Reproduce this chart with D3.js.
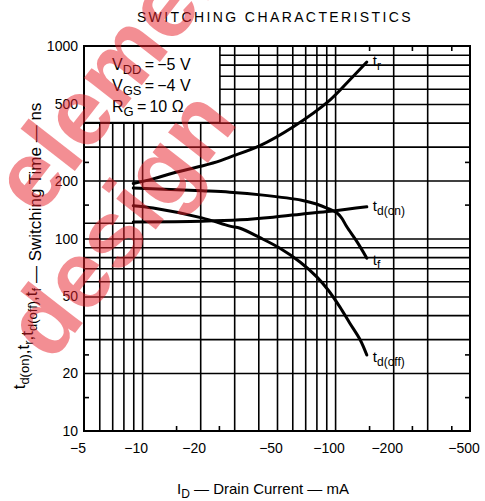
<!DOCTYPE html>
<html lang="en">
<head>
<meta charset="UTF-8">
<title>Switching Characteristics</title>
<script src="https://d3js.org/d3.v7.min.js"></script>
<style>
  body { margin: 0; background: #fff; font-family: 'Liberation Sans', Arial, sans-serif; }
  svg { display: block; }
  .grid line { stroke: #000; stroke-width: 1.6; }
  .grid path { display: none; }
  .curve { fill: none; stroke: #000; stroke-width: 3; stroke-linecap: round; }
</style>
</head>
<body>
<svg id="chart"></svg>
<script>
// values (|ID| in mA, time in ns)
const trCurrent   = [9, 11.4, 14.5, 20.4, 25.3, 28.5, 40.8, 60.5, 94, 119, 146];
const trTime      = [193, 204, 219, 238, 253, 265, 304, 380, 524, 666, 826];
const tfCurrent   = [9, 20.4, 28.5, 42.3, 67, 80, 92, 102, 108, 115, 130, 146];
const tfTime      = [183, 177, 174, 168, 158, 151, 143, 136, 128, 115, 96, 79];
const tdonCurrent = [9, 20.4, 32.2, 47.7, 71.5, 97.5, 146];
const tdonTime    = [122, 123, 125, 129, 135, 139, 146];
const tdoffCurrent = [9, 11.4, 20.4, 28.5, 32.2, 40.8, 51.8, 65.8, 80.6, 92, 106, 119, 135, 146];
const tdoffTime    = [148, 144, 128, 116, 113, 101, 89, 75.5, 63, 54, 44, 36.4, 29.7, 24.8];

const xTickLabels = [5, 10, 20, 50, 100, 200, 500];
const yTickLabels = [10, 20, 50, 100, 200, 500, 1000];
const xGrid = [6, 7, 8, 9, 10, 20, 30, 40, 50, 60, 70, 80, 90, 100, 200, 300];
const yGrid = [20, 30, 40, 50, 60, 70, 80, 90, 100, 200, 300, 400, 500, 600, 700, 800, 900];
const xMinor = [15, 25, 150, 250, 400];
const yMinor = [15, 25, 150, 250];

const W = 485, H = 501;
const margin = {top: 46, right: 15, bottom: 70, left: 84};
const w = W - margin.left - margin.right;
const h = H - margin.top - margin.bottom;

const svg = d3.select("#chart").attr("width", W).attr("height", H);
const g = svg.append("g").attr("transform", `translate(${margin.left},${margin.top})`);

const x = d3.scaleLog().domain([5, 500]).range([0, w]);
const y = d3.scaleLog().domain([10, 1000]).range([h, 0]);

// grid
g.append("g").attr("class", "grid").attr("transform", `translate(0,${h})`)
  .call(d3.axisBottom(x).tickValues(xGrid).tickSize(-h).tickFormat(""));
g.append("g").attr("class", "grid")
  .call(d3.axisLeft(y).tickValues(yGrid).tickSize(-w).tickFormat(""));
g.append("line").attr("x1", x(5)).attr("x2", x(9)).attr("y1", y(120)).attr("y2", y(120))
  .attr("stroke", "#000").attr("stroke-width", 1.6);

// short inward ticks on all sides
g.append("g").attr("class", "grid").attr("transform", `translate(0,${h})`)
  .call(d3.axisBottom(x).tickValues(xMinor).tickSize(-5).tickFormat(""));
g.append("g").attr("class", "grid")
  .call(d3.axisTop(x).tickValues(xMinor).tickSize(-5).tickFormat(""));
g.append("g").attr("class", "grid")
  .call(d3.axisLeft(y).tickValues(yMinor).tickSize(-5).tickFormat(""));
g.append("g").attr("class", "grid").attr("transform", `translate(${w},0)`)
  .call(d3.axisRight(y).tickValues(yMinor).tickSize(-5).tickFormat(""));

// conditions box
g.append("rect").attr("x", 0).attr("y", 0)
  .attr("width", x(25.3)).attr("height", y(400))
  .attr("fill", "#fff").attr("stroke", "#000").attr("stroke-width", 1.6);

const cond = [["V", "DD", "\u2009=\u2009\u22125 V"], ["V", "GS", "\u2009=\u2009\u22124 V"], ["R", "G", "\u2009=\u200910 \u03A9"]];
cond.forEach((c, i) => {
  const t = g.append("text").attr("x", 28).attr("y", 24 + i * 21)
    .attr("font-size", 16);
  t.append("tspan").text(c[0]);
  t.append("tspan").attr("font-size", 13).attr("dy", 4).text(c[1]);
  t.append("tspan").attr("dy", -4).text(c[2]);
});

// frame
g.append("rect").attr("width", w).attr("height", h)
  .attr("fill", "none").attr("stroke", "#000").attr("stroke-width", 2);

// curves
const line = d3.line().x(d => x(d[0])).y(d => y(d[1])).curve(d3.curveCatmullRom.alpha(0.5));
const series = [
  {xs: trCurrent, ys: trTime, main: "t", sub: "r", dy: 4},
  {xs: tdonCurrent, ys: tdonTime, main: "t", sub: "d(on)", dy: 4},
  {xs: tfCurrent, ys: tfTime, main: "t", sub: "f", dy: 7},
  {xs: tdoffCurrent, ys: tdoffTime, main: "t", sub: "d(off)", dy: 7}
];
series.forEach(s => {
  const pts = s.xs.map((v, i) => [v, s.ys[i]]);
  g.append("path").attr("class", "curve").attr("d", line(pts));
  const last = pts[pts.length - 1];
  const t = g.append("text").attr("x", x(last[0]) + 6).attr("y", y(last[1]) + s.dy)
    .attr("font-size", 15);
  t.append("tspan").text(s.main);
  t.append("tspan").attr("font-size", 12).attr("dy", 4).text(s.sub);
});

// tick labels
g.selectAll(".xlab").data(xTickLabels).join("text")
  .attr("x", d => x(d) - 6).attr("y", h + 22)
  .attr("text-anchor", "middle").attr("font-size", 14)
  .text(d => "\u2212" + d);
g.selectAll(".ylab").data(yTickLabels).join("text")
  .attr("x", -6).attr("y", d => y(d) + 5)
  .attr("text-anchor", "end").attr("font-size", 14)
  .text(d => d);

// title
svg.append("text").attr("x", 275).attr("y", 22).attr("text-anchor", "middle")
  .attr("font-size", 14).attr("letter-spacing", 2.4).text("SWITCHING CHARACTERISTICS");

// x axis title
const xt = svg.append("text").attr("x", 263).attr("y", 494).attr("text-anchor", "middle")
  .attr("font-size", 15);
xt.append("tspan").text("I");
xt.append("tspan").attr("font-size", 12).attr("dy", 4).text("D");
xt.append("tspan").attr("dy", -4).text(" \u2014 Drain Current \u2014 mA");

// y axis title
const yt = svg.append("text").attr("transform", "translate(25,246) rotate(-90)")
  .attr("text-anchor", "middle").attr("font-size", 17);
[["t", "d(on)"], [",t", "r"], [",t", "d(off)"], [",t", "f"]].forEach(p => {
  yt.append("tspan").text(p[0]);
  yt.append("tspan").attr("font-size", 13).attr("dy", 4).text(p[1]);
  yt.append("tspan").attr("dy", -4).text("");
});
yt.append("tspan").text(" \u2014 Switching Time \u2014 ns");

// watermark
const wm = svg.append("g").attr("transform", "translate(30,355) rotate(-52)")
  .attr("fill", "#e8202a").attr("opacity", 0.5)
  .attr("font-weight", "bold").attr("font-size", 95);
wm.append("text").attr("x", 6).attr("y", 22).text("design");
wm.append("text").attr("x", 113).attr("y", -78).text("element");
</script>
</body>
</html>
